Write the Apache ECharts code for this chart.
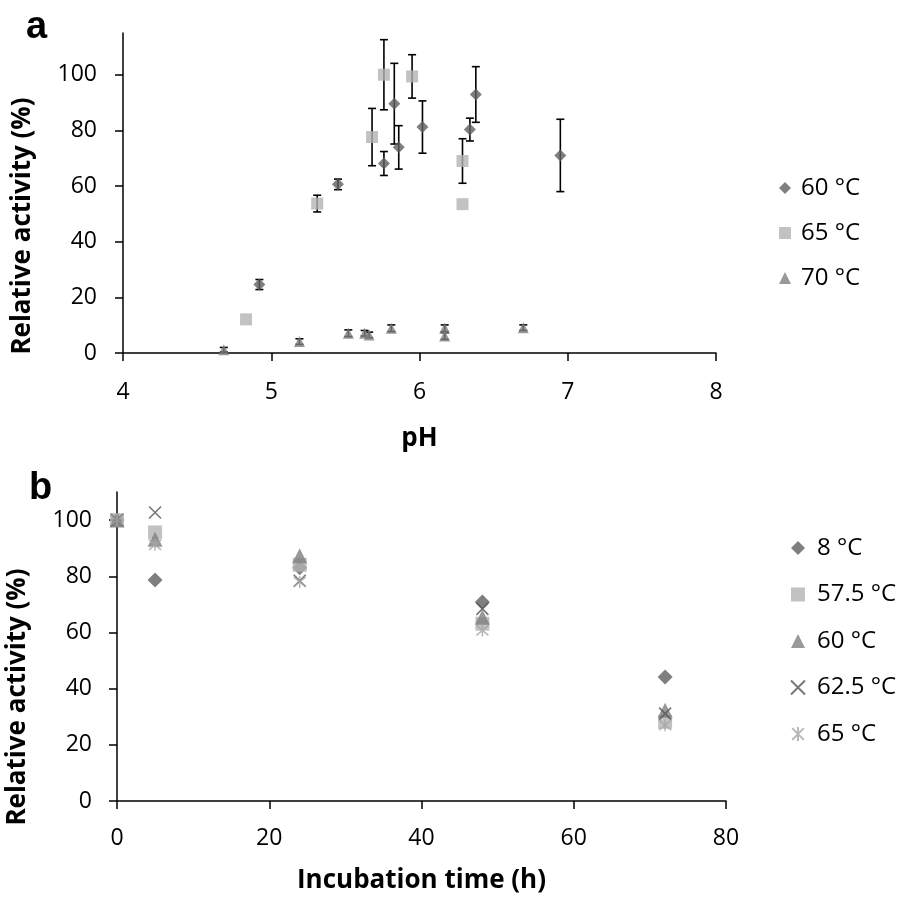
<!DOCTYPE html>
<html>
<head>
<meta charset="utf-8">
<script src="https://cdn.jsdelivr.net/npm/echarts@6/dist/echarts.min.js"></script>
<style>html,body{margin:0;padding:0;background:#fff}#c{width:898px;height:903px}</style>
</head>
<body>
<div id="c"></div>
<script>
// ---- Panel a: pH profile ----
const legendA = ['60 °C', '65 °C', '70 °C'];
const phA60  = [4.92, 5.45, 5.76, 5.83, 5.86, 6.02, 6.34, 6.38, 6.95];
const actA60 = [24.6, 60.6, 68.1, 89.6, 73.9, 81.2, 80.3, 92.9, 71.0];
const errA60 = [1.8, 1.9, 4.3, 14.5, 7.8, 9.4, 4.1, 10.0, 13.0];
const phA65  = [4.83, 5.31, 5.68, 5.76, 5.95, 6.29, 6.29];
const actA65 = [12.1, 53.7, 77.6, 100.0, 99.4, 69.0, 53.5];
const errA65 = [0, 3.0, 10.3, 12.6, 7.8, 8.0, 0];
const phA70  = [4.68, 5.19, 5.52, 5.63, 5.66, 5.81, 6.17, 6.17, 6.70];
const actA70 = [1.2, 4.1, 7.1, 7.1, 6.5, 8.9, 8.9, 6.1, 9.1];
const errA70 = [0.8, 1.0, 1.2, 1.0, 1.0, 1.2, 1.2, 1.2, 1.0];
const xTicksA = [4, 5, 6, 7, 8];
const yTicksA = [0, 20, 40, 60, 80, 100];

// ---- Panel b: thermal stability ----
const legendB = ['8 °C', '57.5 °C', '60 °C', '62.5 °C', '65 °C'];
const timeB = [0, 5, 24, 48, 72];
const actB8   = [100, 78.7, 83.0, 70.8, 44.1];
const actB575 = [100, 95.6, 84.1, 63.1, 28.2];
const actB60  = [100, 93.2, 87.3, 65.4, 32.3];
const actB625 = [100, 102.7, 78.4, 68.4, 31.1];
const actB65  = [100, 91.2, 78.0, 60.7, 27.0];
const xTicksB = [0, 20, 40, 60, 80];
const yTicksB = [0, 20, 40, 60, 80, 100];

const FONT = "'Open Sans', 'DejaVu Sans', sans-serif";
const pts = (xs, ys) => xs.map((x, i) => [x, ys[i]]);
const errPts = (xs, ys, es) => xs.map((x, i) => [x, ys[i], es[i]]);

function errRender(params, api) {
  const x = api.value(0), y = api.value(1), e = api.value(2);
  if (!e) return null;
  const t = api.coord([x, y + e]), b = api.coord([x, y - e]);
  const w = 4, st = { stroke: '#000', lineWidth: 1.6 };
  return { type: 'group', children: [
    { type: 'line', shape: { x1: t[0], y1: t[1], x2: b[0], y2: b[1] }, style: st },
    { type: 'line', shape: { x1: t[0] - w, y1: t[1], x2: t[0] + w, y2: t[1] }, style: st },
    { type: 'line', shape: { x1: b[0] - w, y1: b[1], x2: b[0] + w, y2: b[1] }, style: st }
  ]};
}

const axLine = { show: true, onZero: false, lineStyle: { color: '#000', width: 1.5 } };
const axTick = (vals) => ({ show: true, inside: false, length: 8, lineStyle: { color: '#000', width: 1.5 }, customValues: vals });
const axLabel = (vals, margin) => ({ show: true, color: '#000', fontSize: 23, fontFamily: FONT, margin: margin, customValues: vals });
const nameStyle = { color: '#000', fontSize: 26, fontWeight: 'bold', fontFamily: FONT };

const nameMapA = { a60: legendA[0], a65: legendA[1], a70: legendA[2] };
const nameMapB = { b8: legendB[0], b575: legendB[1], b60: legendB[2], b625: legendB[3], b65: legendB[4] };

const cDia = '#5f5f5f', cSq = '#b3b3b3', cTri = '#808080', cX = '#555555', cAst = '#a6a6a6';
const pathX = 'path://M0,0L10,10M10,0L0,10';
const pathAst = 'path://M0,0L10,10M10,0L0,10M5,-1L5,11';

const chart = echarts.init(document.getElementById('c'), null, { renderer: 'canvas' });
chart.setOption({
  animation: false,
  backgroundColor: '#fff',
  grid: [
    { left: 123, top: 33, width: 593, height: 320 },
    { left: 117, top: 492, width: 609, height: 309 }
  ],
  xAxis: [
    { gridIndex: 0, type: 'value', min: 4, max: 8, interval: 1, axisLine: axLine, axisTick: axTick(xTicksA),
      axisLabel: axLabel(xTicksA, 28), splitLine: { show: false },
      name: 'pH', nameLocation: 'middle', nameGap: 73, nameTextStyle: nameStyle },
    { gridIndex: 1, type: 'value', min: 0, max: 80, interval: 20, axisLine: axLine, axisTick: axTick(xTicksB),
      axisLabel: axLabel(xTicksB, 26), splitLine: { show: false },
      name: 'Incubation time (h)', nameLocation: 'middle', nameGap: 67, nameTextStyle: nameStyle }
  ],
  yAxis: [
    { gridIndex: 0, type: 'value', min: 0, max: 115, interval: 20, axisLine: axLine, axisTick: axTick(yTicksA),
      axisLabel: axLabel(yTicksA, 26), splitLine: { show: false } },
    { gridIndex: 1, type: 'value', min: 0, max: 110, interval: 20, axisLine: axLine, axisTick: axTick(yTicksB),
      axisLabel: axLabel(yTicksB, 25), splitLine: { show: false } }
  ],
  legend: [
    { orient: 'vertical', left: 774, top: 171, itemWidth: 12, itemHeight: 12, itemGap: 21,
      data: ['a60', 'a65', 'a70'], formatter: n => nameMapA[n], selectedMode: false,
      textStyle: { color: '#000', fontSize: 24, fontFamily: FONT, lineHeight: 24, padding: [0, 0, 0, 5] } },
    { orient: 'vertical', left: 785, top: 531, itemWidth: 14, itemHeight: 14, itemGap: 22.5,
      data: ['b8', 'b575', 'b60', 'b625', 'b65'], formatter: n => nameMapB[n], selectedMode: false,
      textStyle: { color: '#000', fontSize: 24, fontFamily: FONT, lineHeight: 24, padding: [0, 0, 0, 7] } }
  ],
  graphic: [
    { type: 'text', left: 26, top: 9, style: { text: 'a', fill: '#000', font: "bold 38px 'Liberation Sans', Arial, sans-serif" } },
    { type: 'text', left: 29, top: 470, style: { text: 'b', fill: '#000', font: "bold 38px 'Liberation Sans', Arial, sans-serif" } },
    { type: 'text', x: 23, y: 226, rotation: Math.PI / 2,
      style: { text: 'Relative activity (%)', fill: '#000', font: "bold 26px " + FONT, textAlign: 'center', textVerticalAlign: 'middle' } },
    { type: 'text', x: 18, y: 697, rotation: Math.PI / 2,
      style: { text: 'Relative activity (%)', fill: '#000', font: "bold 26px " + FONT, textAlign: 'center', textVerticalAlign: 'middle' } }
  ],
  series: [
    { type: 'custom', xAxisIndex: 0, yAxisIndex: 0, renderItem: errRender, data: errPts(phA60, actA60, errA60), z: 1, silent: true },
    { type: 'custom', xAxisIndex: 0, yAxisIndex: 0, renderItem: errRender, data: errPts(phA65, actA65, errA65), z: 1, silent: true },
    { type: 'custom', xAxisIndex: 0, yAxisIndex: 0, renderItem: errRender, data: errPts(phA70, actA70, errA70), z: 1, silent: true },
    { name: 'a60', type: 'scatter', xAxisIndex: 0, yAxisIndex: 0, symbol: 'diamond', symbolSize: 12, z: 3,
      itemStyle: { color: cDia }, data: pts(phA60, actA60) },
    { name: 'a65', type: 'scatter', xAxisIndex: 0, yAxisIndex: 0, symbol: 'rect', symbolSize: 12, z: 3,
      itemStyle: { color: cSq }, data: pts(phA65, actA65) },
    { name: 'a70', type: 'scatter', xAxisIndex: 0, yAxisIndex: 0, symbol: 'triangle', symbolSize: 11, z: 3,
      itemStyle: { color: cTri }, data: pts(phA70, actA70) },

    { name: 'b8', type: 'scatter', xAxisIndex: 1, yAxisIndex: 1, symbol: 'diamond', symbolSize: 15, z: 3,
      itemStyle: { color: cDia }, data: pts(timeB, actB8) },
    { name: 'b575', type: 'scatter', xAxisIndex: 1, yAxisIndex: 1, symbol: 'rect', symbolSize: 14, z: 3,
      itemStyle: { color: cSq }, data: pts(timeB, actB575) },
    { name: 'b60', type: 'scatter', xAxisIndex: 1, yAxisIndex: 1, symbol: 'triangle', symbolSize: 15, z: 3,
      itemStyle: { color: cTri }, data: pts(timeB, actB60) },
    { name: 'b625', type: 'scatter', xAxisIndex: 1, yAxisIndex: 1, symbol: pathX, symbolSize: 12, z: 3,
      itemStyle: { color: 'rgba(0,0,0,0)', borderColor: cX, borderWidth: 1.6 }, data: pts(timeB, actB625) },
    { name: 'b65', type: 'scatter', xAxisIndex: 1, yAxisIndex: 1, symbol: pathAst, symbolSize: 12, z: 3,
      itemStyle: { color: 'rgba(0,0,0,0)', borderColor: cAst, borderWidth: 1.6 }, data: pts(timeB, actB65) }
  ]
});
</script>
</body>
</html>
